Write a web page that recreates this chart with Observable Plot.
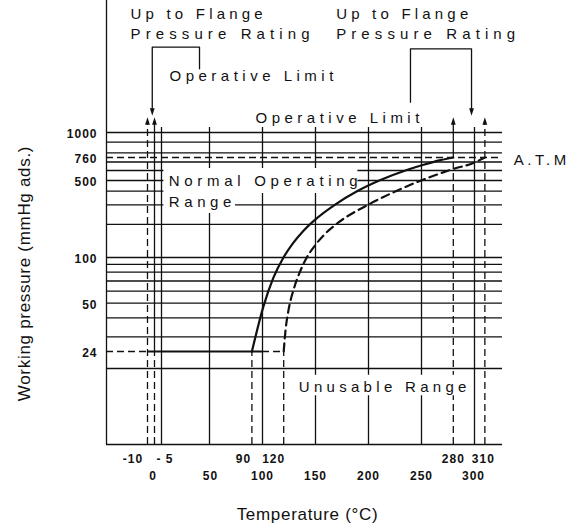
<!DOCTYPE html>
<html>
<head>
<meta charset="utf-8">
<script src="https://cdn.jsdelivr.net/npm/d3@7"></script>
<script src="https://cdn.jsdelivr.net/npm/@observablehq/plot@0.6"></script>
<style>
  body { margin: 0; background: #fff; }
  g[font-size="12"] text { letter-spacing: 1px; }
  g[font-size="17"] text { letter-spacing: 0.7px; }
</style>
</head>
<body>
<div id="chart"></div>
<script>
// ---- data ----
const tempGrid = [0, 50, 100, 150, 200, 250, 300];
const tempTicksRow1 = [-10, -5, 90, 120, 280, 310];
const tempLabelsRow1 = ["-10", "- 5", "90", "120", "280", "310"];
const tempTicksRow2 = [0, 50, 100, 150, 200, 250, 300];
const tempLabelsRow2 = ["0", "50", "100", "150", "200", "250", "300"];
const pressureGrid = [1000, 900, 800, 700, 600, 500, 400, 300, 200, 100, 90, 80, 70, 60, 50, 40, 30, 20];
const pressureTicks = [1000, 760, 500, 100, 50, 24];
const pressureLabels = ["1000", "760", "500", "100", "50", "24"];
const atmPressure = 760;
const minPressure = 24;
const solidTemp = [90, 100.9, 110.4, 119.8, 128.3, 138.7, 150, 168.9, 189.6, 211.3, 236.8, 251.9, 267.9, 280];
const solidPressure = [24, 47.6, 73.9, 100, 133, 175, 222, 304, 401, 504, 608, 666, 724, 760];
const dashedTemp = [120, 121.7, 124.5, 129.7, 135.4, 141, 150, 158.5, 171.7, 199, 220.8, 249.1, 267.9, 280.2, 299, 310];
const dashedPressure = [24, 33, 44.8, 62.6, 80.7, 97.7, 130.5, 162, 208, 299, 380, 498, 570, 617, 688, 760];

const solidCurve = solidTemp.map((t, i) => ({t, p: solidPressure[i]}));
const dashedCurve = dashedTemp.map((t, i) => ({t, p: dashedPressure[i]}));

// ---- styles ----
const ink = "#111";
const solid = {stroke: ink, strokeWidth: 1.3};
const dash = {stroke: ink, strokeWidth: 1.3, strokeDasharray: "7,4"};
const note = {fontSize: 15, textAnchor: "start", fill: ink};
const tickStyle = {fontSize: 12, fontWeight: "bold", fill: ink};
const letterSpacing = {
  "Up to Flange": 4.2, "Pressure Rating": 5.1, "Operative Limit": 4.5,
  "Normal Operating": 4.7, "Range": 4.6, "Unusable Range": 4.3, "A.T.M": 3.5
};
const arrowHead = {
  draw(ctx, size) {
    const r = Math.sqrt(size / Math.PI);
    ctx.moveTo(0, -1.4 * r);
    ctx.lineTo(0.8 * r, 1.1 * r);
    ctx.lineTo(-0.8 * r, 1.1 * r);
    ctx.closePath();
  }
};
const row1Nudge = {"-10": -14.5, "- 5": 10.5, "90": -8.5, "120": -10, "310": -1.5};
const row2Nudge = {"0": -8.5, "50": 1, "300": -1};

function tickRow(values, labels, dy, nudge) {
  return values.map((v, i) => Plot.text([labels[i]], {
    x: v, frameAnchor: "bottom", lineAnchor: "middle", textAnchor: "middle",
    dy, dx: nudge[labels[i]] ?? 0, ...tickStyle
  }));
}

const chart = Plot.plot({
  width: 571,
  height: 529,
  marginTop: 0, marginRight: 0, marginBottom: 0, marginLeft: 0,
  style: {fontFamily: "'Liberation Sans', Arial, sans-serif", background: "#fff"},
  x: {type: "linear", axis: null, domain: [-40, -10, 0, 50, 300, 327], range: [106, 147, 161, 209, 474, 502]},
  y: {type: "log", axis: null, domain: [10, 20, 24, 100, 500, 760, 1000, 6700], range: [444, 368, 351, 257, 180, 157, 132, 0]},
  marks: [
    // frame lines
    Plot.ruleX([-40], {y1: 10, y2: 6700, ...solid}),
    Plot.ruleY([10], {x1: -40, x2: 327, ...solid}),
    // horizontal grid
    Plot.ruleY(pressureGrid, {x1: -40, x2: 327, ...solid}),
    Plot.ruleY([atmPressure], {x1: -40, x2: 327, ...dash}),
    // vertical grid
    Plot.ruleX(tempGrid, {y1: 10, y2: 1075, ...solid}),
    // limits
    Plot.ruleX([-10], {y1: 10, y2: 1172, ...dash}),
    Plot.ruleX([-5], {y1: 10, y2: minPressure, ...dash}),
    Plot.ruleX([-5], {y1: minPressure, y2: 1172, ...solid}),
    Plot.ruleX([90, 120], {y1: 10, y2: minPressure, ...dash}),
    Plot.ruleX([280], {y1: 10, y2: atmPressure, ...dash}),
    Plot.ruleX([280], {y1: atmPressure, y2: 1172, ...solid}),
    Plot.ruleX([310], {y1: 10, y2: 1172, ...dash}),
    Plot.ruleY([minPressure], {x1: -40, x2: -10, ...dash}),
    Plot.ruleY([minPressure], {x1: -10, x2: 100, stroke: ink, strokeWidth: 2}),
    Plot.ruleY([minPressure], {x1: 100, x2: 120, ...dash}),
    // white blocks behind labels
    Plot.rect([0], {x1: 2.5, x2: 190, y1: 381, y2: 622, fill: "white"}),
    Plot.rect([0], {x1: 2.5, x2: 74.5, y1: 251, y2: 381, fill: "white"}),
    Plot.rect([0], {x1: 128, x2: 295, y1: 15.6, y2: 18.8, fill: "white"}),
    // curves
    Plot.line(solidCurve, {x: "t", y: "p", curve: "monotone-x", stroke: ink, strokeWidth: 2.2}),
    Plot.line(dashedCurve, {x: "t", y: "p", curve: "monotone-x", stroke: ink, strokeWidth: 2.2, strokeDasharray: "8,5"}),
    // up arrows
    Plot.dot([-10, -5, 280, 310], {x: d => d, y: 1172, symbol: arrowHead, r: 3, fill: ink, stroke: "none"}),
    // brackets
    Plot.line([[39.6, 2503], [39.6, 3419], [-6.6, 3419], [-6.6, 1400]], {x: d => d[0], y: d => d[1], ...solid}),
    Plot.line([[239.6, 1547], [239.6, 3340], [297.2, 3340], [297.2, 1400]], {x: d => d[0], y: d => d[1], ...solid}),
    Plot.dot([-6.6, 297.2], {x: d => d, y: 1353, symbol: arrowHead, r: 3, rotate: 180, fill: ink, stroke: "none"}),
    // annotations
    Plot.text(["Up to Flange"], {x: -22.4, y: 5531, ...note}),
    Plot.text(["Pressure Rating"], {x: -22.4, y: 4146, ...note}),
    Plot.text(["Up to Flange"], {x: 169.5, y: 5531, ...note}),
    Plot.text(["Pressure Rating"], {x: 169.5, y: 4146, ...note}),
    Plot.text(["Operative Limit"], {x: 8.3, y: 2247, ...note}),
    Plot.text(["Operative Limit"], {x: 93.4, y: 1232, ...note}),
    Plot.text(["Normal Operating"], {x: 7.6, y: 492, ...note}),
    Plot.text(["Range"], {x: 7.6, y: 318, ...note}),
    Plot.text(["Unusable Range"], {x: 134.2, y: 16.9, ...note}),
    Plot.text(["A.T.M"], {x: 337.9, y: 720, ...note}),
    // tick labels
    Plot.text(pressureTicks, {y: d => d, text: (d, i) => pressureLabels[i], frameAnchor: "left", textAnchor: "end", dx: 97, dy: 2, ...tickStyle}),
    ...tickRow(tempTicksRow1, tempLabelsRow1, -70, row1Nudge),
    ...tickRow(tempTicksRow2, tempLabelsRow2, -53, row2Nudge),
    // axis titles
    Plot.text(["Working pressure (mmHg ads.)"], {frameAnchor: "left", textAnchor: "middle", lineAnchor: "middle", dx: 24, dy: 8.5, rotate: -90, fontSize: 17, fill: ink}),
    Plot.text(["Temperature (°C)"], {frameAnchor: "bottom", textAnchor: "middle", lineAnchor: "middle", dx: 21.5, dy: -15, fontSize: 17, fill: ink})
  ]
});
d3.select(chart).selectAll("text").each(function () {
  const s = letterSpacing[this.textContent];
  if (s != null) this.style.letterSpacing = s + "px";
});
document.getElementById("chart").appendChild(chart);
</script>
</body>
</html>
